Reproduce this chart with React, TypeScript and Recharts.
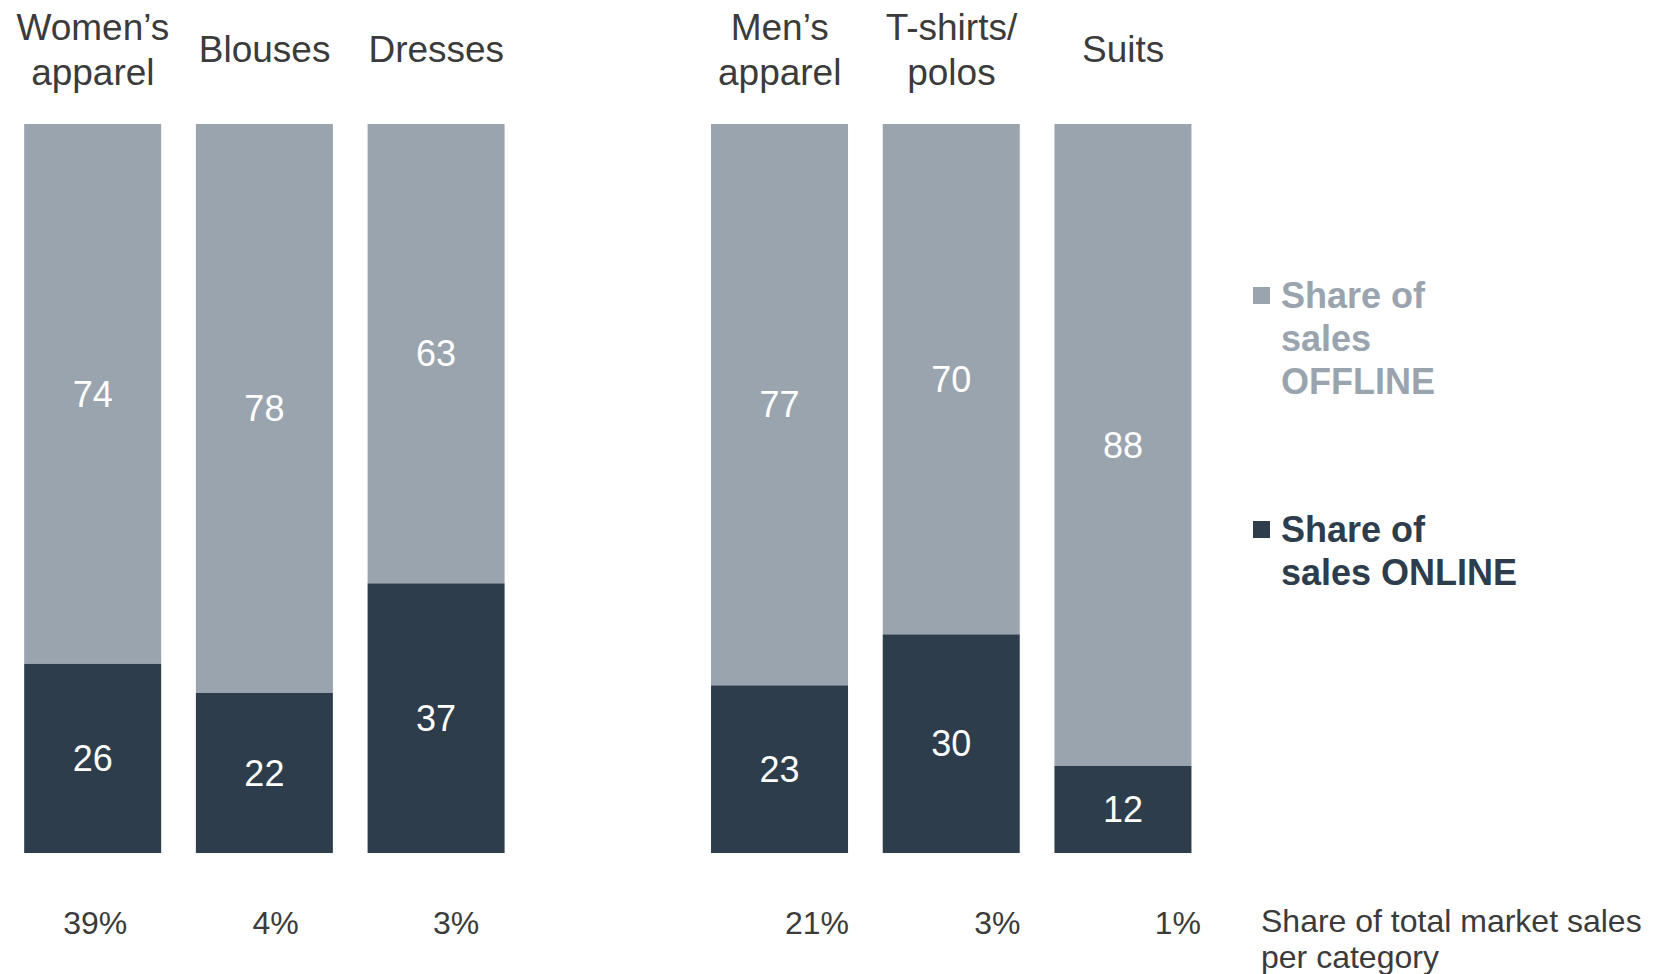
import { Bar, BarChart, Label, LabelList, Legend, XAxis, YAxis } from "recharts";

const categories = ["Women’s\napparel", "Blouses", "Dresses", "", "Men’s\napparel", "T-shirts/\npolos", "Suits"];
const offlineShare = [74, 78, 63, null, 77, 70, 88];
const onlineShare = [26, 22, 37, null, 23, 30, 12];
const marketShare = ["39%", "4%", "3%", "", "21%", "3%", "1%"];

const series = [
  { key: "offline", name: "Share of\nsales\nOFFLINE", color: "#9aa4ae" },
  { key: "online", name: "Share of\nsales ONLINE", color: "#2e3d4c" },
];

const data = categories.map((name, i) => ({
  name,
  offline: offlineShare[i],
  online: onlineShare[i],
}));

const FONT = "'Liberation Sans', Arial, Helvetica, sans-serif";
const TEXT = "#3b3b3b";

function TopTick({ x, y, payload }: any) {
  const lines = String(payload.value).split("\n").filter((l) => l.length);
  const lh = 45;
  const first = y - 62 - ((lines.length - 1) * lh) / 2;
  return (
    <text x={x} y={first} textAnchor="middle" fill={TEXT} fontSize={37}>
      {lines.map((l, i) => (
        <tspan key={i} x={x} y={first + i * lh}>
          {l}
        </tspan>
      ))}
    </text>
  );
}

function LegendBox() {
  return (
    <div style={{ fontFamily: FONT, fontWeight: 700, fontSize: 36, lineHeight: "43px", textAlign: "left" }}>
      {series.map((s, i) => (
        <div key={s.key} style={{ position: "relative", paddingLeft: 28, marginBottom: i === 0 ? 105 : 0, color: s.color, whiteSpace: "pre-line" }}>
          <span style={{ position: "absolute", left: 0, top: 13, width: 17, height: 17, background: s.color }} />
          {s.name}
        </div>
      ))}
    </div>
  );
}

function FootNote() {
  return (
    <text x={1261} y={932} fill={TEXT} fontSize={32}>
      <tspan x={1261} y={932}>Share of total market sales</tspan>
      <tspan x={1261} y={968}>per category</tspan>
    </text>
  );
}

export default function App() {
  return (
    <div style={{ position: "absolute", left: 0, top: 0, fontFamily: FONT }}>
      <BarChart
        width={1657}
        height={974}
        data={data}
        margin={{ top: 0, right: 389, bottom: 0, left: 5 }}
        barCategoryGap="10%"
      >
        <XAxis
          xAxisId="bars"
          dataKey="name"
          orientation="top"
          height={124}
          padding={{ left: 2, right: 59 }}
          axisLine={false}
          tickLine={false}
          tickSize={0}
          tickMargin={0}
          interval={0}
          tick={<TopTick />}
        />
        <XAxis
          xAxisId="pct"
          dataKey="name"
          orientation="bottom"
          height={121}
          axisLine={false}
          tickLine={false}
          tickSize={0}
          tickMargin={58}
          interval={0}
          tick={{ fill: TEXT, fontSize: 32 }}
          tickFormatter={(_v: any, i: number) => marketShare[i]}
        >
          <Label content={<FootNote />} />
        </XAxis>
        <YAxis hide domain={[0, 100]} />
        <Legend
          layout="horizontal"
          verticalAlign="middle"
          align="center"
          wrapperStyle={{ left: 1253, top: 274, width: 400 }}
          content={<LegendBox />}
        />
        <Bar xAxisId="bars" dataKey="online" name="Share of sales ONLINE" stackId="s" fill="#2e3d4c" isAnimationActive={false}>
          <LabelList dataKey="online" position="center" fill="#ffffff" fontSize={36} />
        </Bar>
        <Bar xAxisId="bars" dataKey="offline" name="Share of sales OFFLINE" stackId="s" fill="#9aa4ae" isAnimationActive={false}>
          <LabelList dataKey="offline" position="center" fill="#ffffff" fontSize={36} />
        </Bar>
      </BarChart>
    </div>
  );
}
